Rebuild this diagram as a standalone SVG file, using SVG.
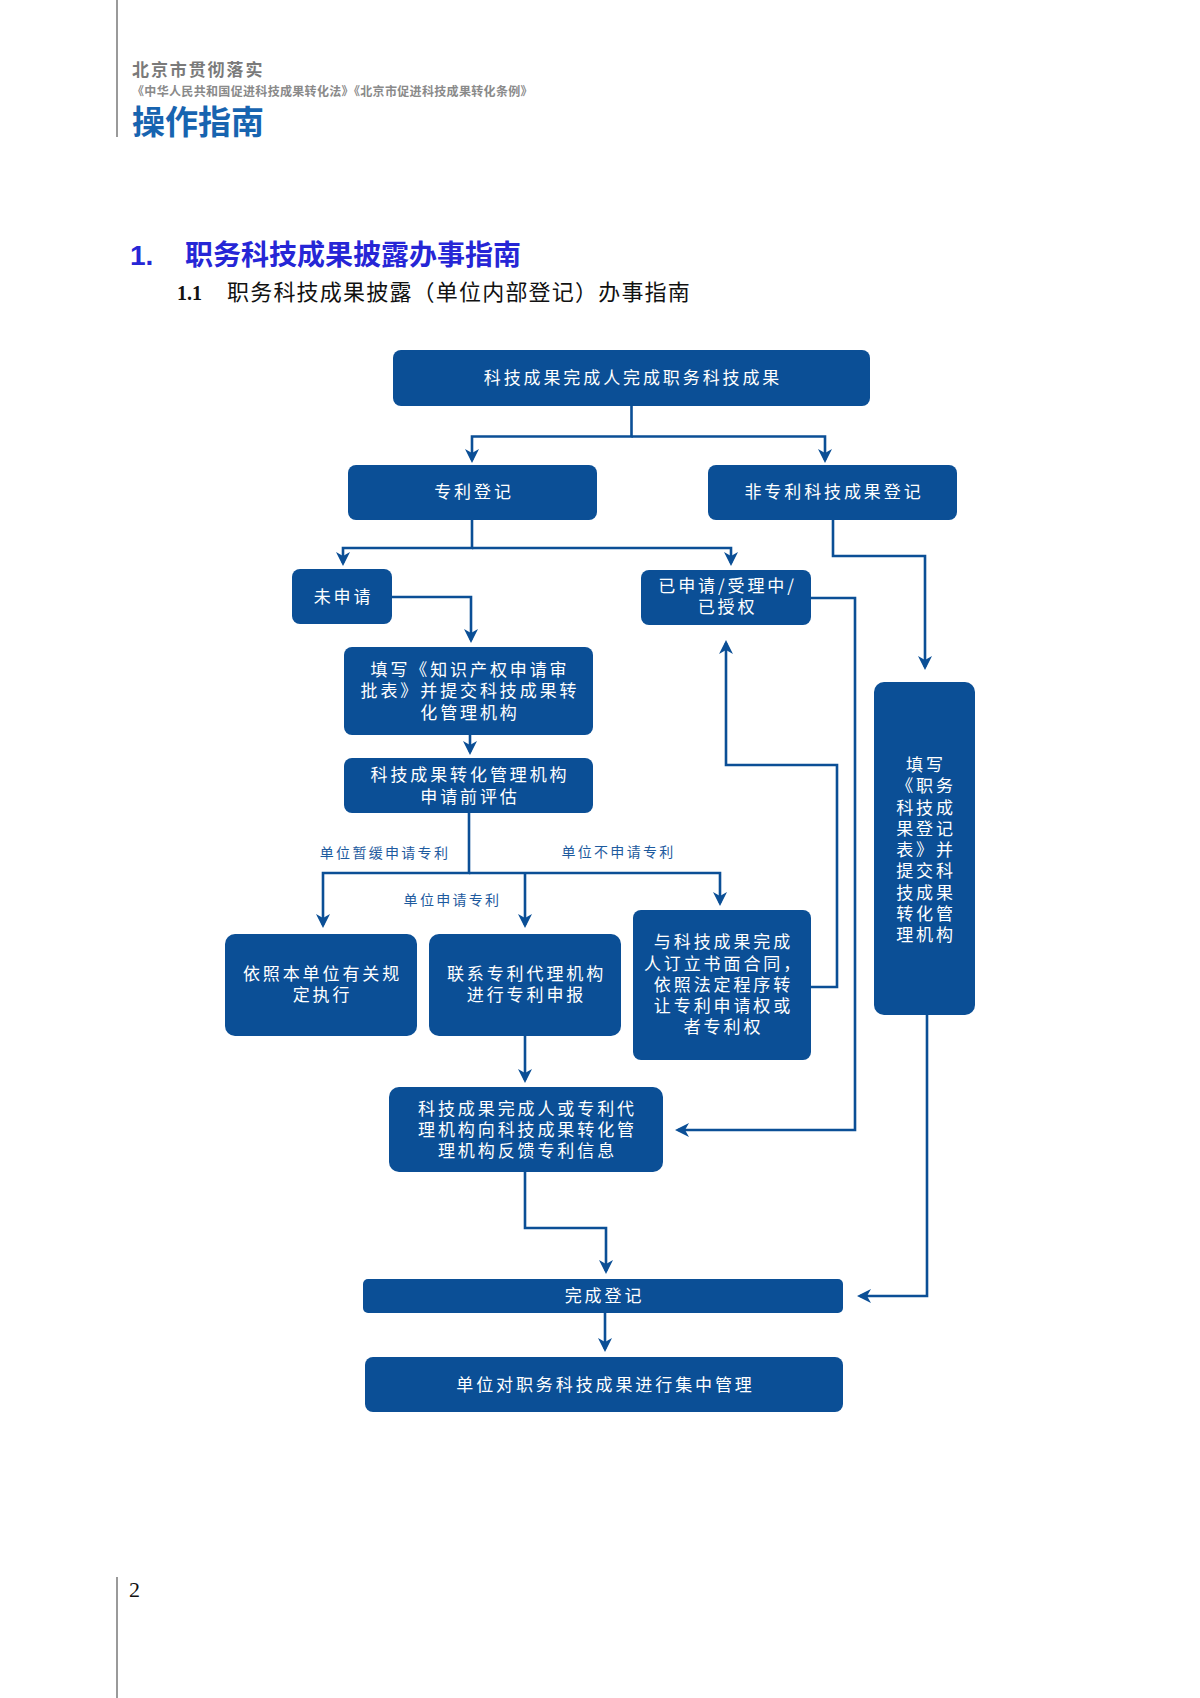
<svg xmlns="http://www.w3.org/2000/svg" width="1200" height="1698" viewBox="0 0 1200 1698">
<defs>
<style>
.node{fill:#0b4f96}
.nt{fill:#ffffff;font-family:"Noto Sans CJK SC","Noto Sans",sans-serif;font-size:17px;letter-spacing:2.9px;text-anchor:middle}
.conn{fill:none;stroke:#0b4f96;stroke-width:2.6}
.lbl{fill:#1d5a9e;font-family:"Noto Sans CJK SC","Noto Sans",sans-serif;font-size:14px;letter-spacing:2.3px;text-anchor:middle}
</style>
<marker id="ah" viewBox="0 0 14 14" refX="11" refY="7" markerWidth="14" markerHeight="14" markerUnits="userSpaceOnUse" orient="auto">
<path d="M0,0 L14,7 L0,14 L4,7 z" fill="#0b4f96"/>
</marker>
</defs>
<rect width="1200" height="1698" fill="#ffffff"/>

<g id="page-header">
<line x1="117" y1="0" x2="117" y2="137" stroke="#9a9a9a" stroke-width="2"/>
<text x="132" y="76" font-family="Noto Sans CJK SC,sans-serif" font-weight="bold" font-size="17" letter-spacing="1.9" fill="#7a7a7a">北京市贯彻落实</text>
<text x="132" y="96" font-family="Noto Sans CJK SC,sans-serif" font-weight="bold" font-size="12" letter-spacing="0.33" fill="#8a8a8a">《中华人民共和国促进科技成果转化法》《北京市促进科技成果转化条例》</text>
<text x="132" y="134" font-family="Noto Sans CJK SC,sans-serif" font-weight="bold" font-size="33" fill="#1764b0">操作指南</text>
</g>

<g id="headings">
<text x="130" y="265" font-family="Liberation Sans,Arial,sans-serif" font-weight="bold" font-size="28" fill="#2626d6">1.</text>
<text x="185" y="265" font-family="Noto Sans CJK SC,sans-serif" font-weight="bold" font-size="28" fill="#2626d6">职务科技成果披露办事指南</text>
<text x="177" y="300" font-family="Liberation Serif,serif" font-weight="bold" font-size="20" fill="#111">1.1</text>
<text x="227" y="300" font-family="Noto Sans CJK SC,sans-serif" font-size="22" letter-spacing="1.2" fill="#111">职务科技成果披露（单位内部登记）办事指南</text>
</g>

<g id="connectors">
<path class="conn" d="M631.5,406 V436.5 H472 V460" marker-end="url(#ah)"/>
<path class="conn" d="M631.5,436.5 H825 V460" marker-end="url(#ah)"/>
<path class="conn" d="M472,520 V548 H343 V563" marker-end="url(#ah)"/>
<path class="conn" d="M472,548 H731 V563" marker-end="url(#ah)"/>
<path class="conn" d="M392,597 H471 V640" marker-end="url(#ah)"/>
<path class="conn" d="M470,735 V752" marker-end="url(#ah)"/>
<path class="conn" d="M469,813 V873 H323 V925" marker-end="url(#ah)"/>
<path class="conn" d="M469,873 H720 V903" marker-end="url(#ah)"/>
<path class="conn" d="M525,873 V925" marker-end="url(#ah)"/>
<path class="conn" d="M811,987 H837 V765 H726 V643" marker-end="url(#ah)"/>
<path class="conn" d="M811,598 H855 V1130 H678" marker-end="url(#ah)"/>
<path class="conn" d="M525,1036 V1080" marker-end="url(#ah)"/>
<path class="conn" d="M525,1172 V1228 H606 V1271" marker-end="url(#ah)"/>
<path class="conn" d="M833,520 V556 H925 V667" marker-end="url(#ah)"/>
<path class="conn" d="M927,1015 V1296 H860" marker-end="url(#ah)"/>
<path class="conn" d="M605,1313 V1349" marker-end="url(#ah)"/>
<text class="lbl" x="385" y="858">单位暂缓申请专利</text>
<text class="lbl" x="618.5" y="857">单位不申请专利</text>
<text class="lbl" x="452.5" y="905">单位申请专利</text>
</g>

<g id="n-start">
<rect class="node" x="393" y="350" width="477" height="56" rx="8"/>
<text class="nt" x="633" y="384">科技成果完成人完成职务科技成果</text>
</g>
<g id="n-patent">
<rect class="node" x="348" y="465" width="249" height="55" rx="8"/>
<text class="nt" x="474" y="498">专利登记</text>
</g>
<g id="n-nonpatent">
<rect class="node" x="708" y="465" width="249" height="55" rx="8"/>
<text class="nt" x="834" y="498">非专利科技成果登记</text>
</g>
<g id="n-notapplied">
<rect class="node" x="292" y="569" width="100" height="55" rx="8"/>
<text class="nt" x="343.5" y="603">未申请</text>
</g>
<g id="n-applied">
<rect class="node" x="641" y="570" width="170" height="55" rx="8"/>
<text class="nt" y="592"><tspan x="727.5">已申请/受理中/</tspan><tspan x="727.5" dy="21">已授权</tspan></text>
</g>
<g id="n-ipform">
<rect class="node" x="344" y="647" width="249" height="88" rx="8"/>
<text class="nt" y="676"><tspan x="470">填写《知识产权申请审</tspan><tspan x="470" dy="21">批表》并提交科技成果转</tspan><tspan x="470" dy="22">化管理机构</tspan></text>
</g>
<g id="n-preeval">
<rect class="node" x="344" y="758" width="249" height="55" rx="8"/>
<text class="nt" y="781"><tspan x="470">科技成果转化管理机构</tspan><tspan x="470" dy="22">申请前评估</tspan></text>
</g>
<g id="n-defer">
<rect class="node" x="225" y="934" width="192" height="102" rx="10"/>
<text class="nt" y="980"><tspan x="322.5">依照本单位有关规</tspan><tspan x="322.5" dy="21">定执行</tspan></text>
</g>
<g id="n-agency">
<rect class="node" x="429" y="934" width="192" height="102" rx="10"/>
<text class="nt" y="980"><tspan x="526.5">联系专利代理机构</tspan><tspan x="526.5" dy="21">进行专利申报</tspan></text>
</g>
<g id="n-transfer">
<rect class="node" x="633" y="910" width="178" height="150" rx="8"/>
<text class="nt" y="948"><tspan x="723.5">与科技成果完成</tspan><tspan x="723.5" dy="22">人订立书面合同，</tspan><tspan x="723.5" dy="21">依照法定程序转</tspan><tspan x="723.5" dy="21">让专利申请权或</tspan><tspan x="723.5" dy="21">者专利权</tspan></text>
</g>
<g id="n-feedback">
<rect class="node" x="389" y="1087" width="274" height="85" rx="10"/>
<text class="nt" y="1115"><tspan x="527.5">科技成果完成人或专利代</tspan><tspan x="527.5" dy="21">理机构向科技成果转化管</tspan><tspan x="527.5" dy="21">理机构反馈专利信息</tspan></text>
</g>
<g id="n-nonpatent-form">
<rect class="node" x="874" y="682" width="101" height="333" rx="10"/>
<text class="nt" y="771"><tspan x="926">填写</tspan><tspan x="926" dy="21.25">《职务</tspan><tspan x="926" dy="21.25">科技成</tspan><tspan x="926" dy="21.25">果登记</tspan><tspan x="926" dy="21.25">表》并</tspan><tspan x="926" dy="21.25">提交科</tspan><tspan x="926" dy="21.25">技成果</tspan><tspan x="926" dy="21.25">转化管</tspan><tspan x="926" dy="21.25">理机构</tspan></text>
</g>
<g id="n-done">
<rect class="node" x="363" y="1279" width="480" height="34" rx="5"/>
<text class="nt" x="604.5" y="1302">完成登记</text>
</g>
<g id="n-manage">
<rect class="node" x="365" y="1357" width="478" height="55" rx="8"/>
<text class="nt" x="605.5" y="1391">单位对职务科技成果进行集中管理</text>
</g>

<g id="page-footer">
<line x1="117" y1="1577" x2="117" y2="1698" stroke="#9a9a9a" stroke-width="2"/>
<text x="129" y="1597" font-family="Liberation Serif,serif" font-size="22" fill="#111">2</text>
</g>
</svg>
